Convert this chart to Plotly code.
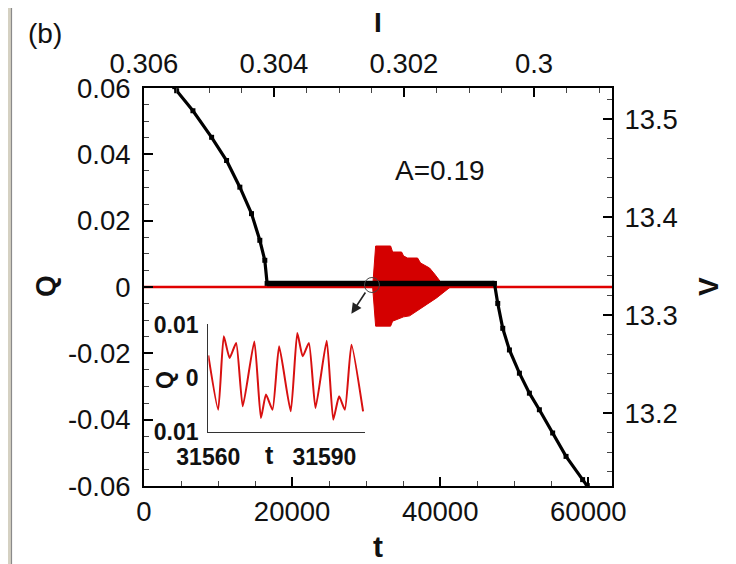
import plotly.graph_objects as go

# ---------------- data ----------------
# V(t) curve (right axis)
t_v = [4150, 4410, 6607, 9130, 11150, 12944, 14520, 15640, 16315, 16625,
       47326, 47771, 48445, 49348, 50697, 52045, 53393, 55187, 56994, 59232, 59865, 60300]
v_v = [13.533, 13.5288, 13.5084, 13.4813, 13.4576, 13.4304, 13.4034, 13.3762, 13.3558, 13.3322,
       13.3322, 13.3118, 13.2864, 13.2643, 13.2406, 13.2202, 13.2033, 13.1796, 13.1557, 13.1320, 13.1259, 13.121]
t_plateau = [16625, 47326]
v_plateau = [13.3322, 13.3322]

# Q = 0 baseline
t_q0 = [0, 63200]
q_q0 = [0, 0]

# oscillation envelope (red burst)
t_env_up = [30877, 31281, 33303, 33573, 34787, 35056, 35596, 36944, 37348, 38562, 39236, 39910, 40584]
q_env_up = [0.0, 0.01236, 0.01236, 0.01055, 0.01055, 0.00935, 0.00874, 0.00874, 0.00723, 0.00573, 0.00392, 0.00181, 0.0]
t_env_lo = [30877, 31281, 33303, 33573, 35056, 35865, 36944, 38292, 39505, 40584, 41258]
q_env_lo = [0.0, -0.0118, -0.0118, -0.0103, -0.0090, -0.0087, -0.0070, -0.0051, -0.0033, -0.0015, -0.0002]

# inset time series
t_in = [31560, 31562.55, 31564.0, 31565.5, 31567.2, 31568.9, 31571.9, 31573.6, 31574.9, 31576.6,
        31578.3, 31581.3, 31583.0, 31584.4, 31586.0, 31587.7, 31590.6, 31592.3, 31593.8, 31595.3,
        31597.0, 31600.0]
q_in = [0.00424, -0.00592, 0.00779, 0.00374, 0.00654, -0.0053, 0.00685, -0.00748, -0.0031, -0.00592,
        0.00592, -0.00623, 0.00841, 0.00405, 0.00654, -0.0056, 0.00698, -0.00779, -0.00343, -0.00592,
        0.00623, -0.00623]

# ticks
t_ticks = [0, 20000, 40000, 60000]
t_ticklabels = ["0", "20000", "40000", "60000"]
q_ticks = [-0.06, -0.04, -0.02, 0, 0.02, 0.04, 0.06]
q_ticklabels = ["-0.06", "-0.04", "-0.02", "0", "0.02", "0.04", "0.06"]
i_ticks = [0.306, 0.304, 0.302, 0.3]
i_ticklabels = ["0.306", "0.304", "0.302", "0.3"]
v_ticks = [13.2, 13.3, 13.4, 13.5]
v_ticklabels = ["13.2", "13.3", "13.4", "13.5"]
in_t_ticks = [31560, 31590]
in_t_ticklabels = ["31560", "31590"]
in_q_ticks = [-0.01, 0, 0.01]
in_q_ticklabels = ["0.01", "0", "0.01"]

# ---------------- figure ----------------
# page is offset by the default 8px body margin
OFF = 8
W, H = 736 - OFF, 564 - OFF
PL, PR, PT, PB = 144, 612, 88, 486          # plot area in page pixels
L, R, T, B = PL - OFF, 736 - PR, PT - OFF, 564 - PB
PW, PH = PR - PL, PB - PT


def px(x):
    return (x - PL) / PW


def py(y):
    return (PB - y) / PH


RED_LINE = "#e00000"
RED_FILL = "#d40000"
FONT = "Liberation Sans, Arial, sans-serif"

fig = go.Figure()

fig.add_trace(go.Scatter(x=t_q0, y=q_q0, mode="lines",
                         line=dict(color=RED_LINE, width=2.6), xaxis="x", yaxis="y",
                         showlegend=False, hoverinfo="skip"))
fig.add_trace(go.Scatter(x=t_env_up + t_env_lo[::-1], y=q_env_up + q_env_lo[::-1],
                         mode="lines", fill="toself", fillcolor=RED_FILL,
                         line=dict(color=RED_FILL, width=1), xaxis="x", yaxis="y",
                         showlegend=False, hoverinfo="skip"))
fig.add_trace(go.Scatter(x=t_v, y=v_v, mode="lines+markers",
                         line=dict(color="black", width=3.2),
                         marker=dict(symbol="square", size=5, color="black"),
                         xaxis="x", yaxis="y2", showlegend=False, hoverinfo="skip"))
fig.add_trace(go.Scatter(x=t_plateau, y=v_plateau, mode="lines",
                         line=dict(color="black", width=5.5),
                         xaxis="x", yaxis="y2", showlegend=False, hoverinfo="skip"))
# dummy for top axis
fig.add_trace(go.Scatter(x=[i_ticks[0], i_ticks[-1]], y=[None, None], mode="lines",
                         xaxis="x2", yaxis="y", showlegend=False, hoverinfo="skip"))
# inset
fig.add_trace(go.Scatter(x=t_in, y=q_in, mode="lines",
                         line=dict(color="#d81010", width=2, shape="spline", smoothing=0.5),
                         xaxis="x3", yaxis="y3", showlegend=False, hoverinfo="skip"))

tickfont = dict(family=FONT, size=27.5, color="#111")
axis_common = dict(showgrid=False, zeroline=False, showline=True, linecolor="black",
                   linewidth=1.8, ticks="inside", ticklen=9, tickwidth=1.6,
                   tickcolor="black", tickfont=tickfont)

fig.update_layout(
    width=W, height=H, autosize=False,
    margin=dict(l=L, r=R, t=T, b=B, pad=0),
    paper_bgcolor="#d5d1c2", plot_bgcolor="white",
    xaxis=dict(domain=[0, 1], range=[0, 63200], anchor="y", tickmode="array",
               tickvals=t_ticks, ticktext=t_ticklabels, ticklabelstandoff=0,
               minor=dict(dtick=5000, tick0=0, ticks="inside", ticklen=5, tickcolor="#444", tickwidth=1),
               **axis_common),
    xaxis2=dict(overlaying="x", side="top", anchor="y", range=[0.306, 0.2988],
                tickmode="array", tickvals=i_ticks, ticktext=i_ticklabels, ticklabelstandoff=2,
                minor=dict(dtick=0.0005, tick0=0.3, ticks="inside", ticklen=5, tickcolor="#444", tickwidth=1),
                **axis_common),
    yaxis=dict(domain=[0, 1], range=[-0.06, 0.06], anchor="x", tickmode="array",
               tickvals=q_ticks, ticktext=q_ticklabels, ticklabelstandoff=6,
               minor=dict(dtick=0.005, tick0=0, ticks="inside", ticklen=5, tickcolor="#444", tickwidth=1),
               **axis_common),
    yaxis2=dict(overlaying="y", side="right", anchor="x", range=[13.1255, 13.5316],
                tickmode="array", tickvals=v_ticks, ticktext=v_ticklabels, ticklabelstandoff=5,
                minor=dict(dtick=0.02, tick0=13.2, ticks="inside", ticklen=5, tickcolor="#444", tickwidth=1),
                **axis_common),
    xaxis3=dict(domain=[px(208.3), px(365)], anchor="y3", range=[31560, 31600.5],
                tickmode="array", tickvals=in_t_ticks, ticktext=in_t_ticklabels,
                showgrid=False, zeroline=False, showline=True, linecolor="#333", linewidth=1.4,
                ticks="", ticklabelstandoff=4,
                tickfont=dict(family=FONT, size=23, color="#111", weight="bold")),
    yaxis3=dict(domain=[py(432), py(324)], anchor="x3", range=[-0.0101, 0.0101],
                tickmode="array", tickvals=in_q_ticks, ticktext=in_q_ticklabels,
                showgrid=False, zeroline=False, showline=True, linecolor="#333", linewidth=1.4,
                ticks="", ticklabelstandoff=4,
                tickfont=dict(family=FONT, size=23, color="#111", weight="bold")),
)

# white panel with grey edge
fig.add_shape(type="rect", xref="paper", yref="paper",
              x0=px(11.5), x1=px(760), y0=py(600), y1=py(5.5),
              fillcolor="white", line=dict(color="#8a8a8a", width=1.2), layer="below")

# circle marking the inset location
fig.add_shape(type="circle", xref="x", yref="y", xsizemode="pixel", ysizemode="pixel",
              xanchor=30782, yanchor=0.0006, x0=-7.5, x1=7.5, y0=-7.5, y1=7.5,
              line=dict(color="#444", width=1), layer="above")

anns = [
    dict(text="(b)", x=px(45), y=py(34), font=dict(family=FONT, size=28, color="#111")),
    dict(text="<b>I</b>", x=px(378), y=py(22), font=dict(family=FONT, size=28, color="#111")),
    dict(text="<b>t</b>", x=px(378), y=py(546), font=dict(family=FONT, size=30, color="#111")),
    dict(text="<b>Q</b>", x=px(45), y=py(286), textangle=-90, font=dict(family=FONT, size=28, color="#111")),
    dict(text="<b>V</b>", x=px(708), y=py(287), textangle=-90, font=dict(family=FONT, size=28, color="#111")),
    dict(text="A=0.19", x=px(440), y=py(170), font=dict(family=FONT, size=28, color="#111")),
    dict(text="<b>Q</b>", x=px(165), y=py(380), textangle=-90, font=dict(family=FONT, size=23, color="#111")),
    dict(text="<b>t</b>", x=px(269), y=py(455), font=dict(family=FONT, size=25, color="#111")),
]
for a in anns:
    fig.add_annotation(xref="paper", yref="paper", showarrow=False,
                       xanchor="center", yanchor="middle", **a)

# arrow from circle
fig.add_annotation(xref="x", yref="y", x=28005, y=-0.00805, ax=15, ay=-22.7,
                   text="", showarrow=True, arrowhead=2, arrowsize=1.3,
                   arrowwidth=1.6, arrowcolor="#222")

fig.write_html("out.html")
